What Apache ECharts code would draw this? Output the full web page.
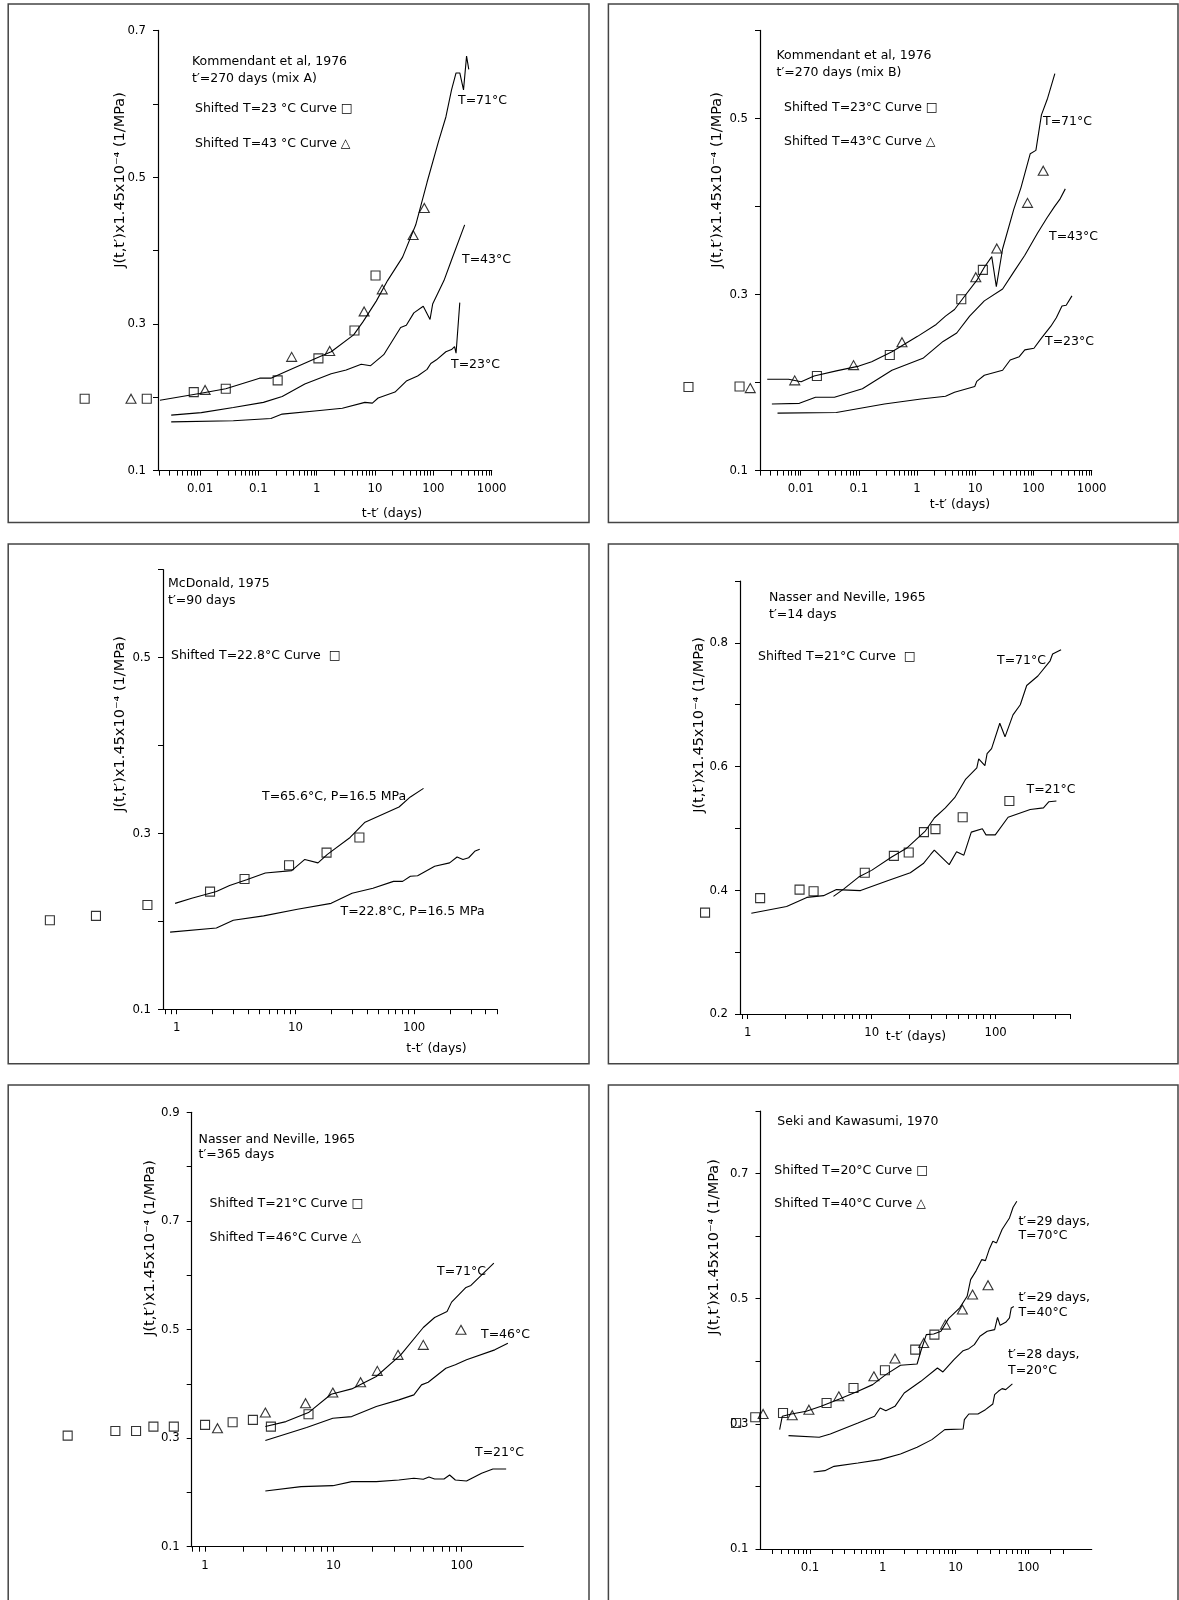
<!DOCTYPE html>
<html><head><meta charset="utf-8">
<script src="https://cdn.jsdelivr.net/npm/echarts@6/dist/echarts.min.js"></script>
<style>html,body{margin:0;padding:0;background:#fff}#c{width:1179px;height:1600px}</style>
</head><body><div id="c"></div>
<script>
// ---------- DATA (x = t-t' in days, y = J(t,t') x1.45e-4 (1/MPa)) ----------
// Panel 1 : Kommendant et al, 1976, mix A
const p1_T71 = [[0.00205,0.196],[0.0098,0.205],[0.0276,0.2115],[0.105,0.226],[0.164,0.226],[0.297,0.235],[0.975,0.253],[1.77,0.262],[4.3,0.285],[6.24,0.303],[10.5,0.331],[16.4,0.359],[29.7,0.391],[49.9,0.435],[78,0.493],[122,0.548],[164,0.582],[205,0.619],[245,0.642],[284,0.642],[329,0.619],[371,0.665],[405,0.647]];
const p1_T43 = [[0.0032,0.1756],[0.0105,0.179],[0.0372,0.186],[0.122,0.193],[0.256,0.201],[0.625,0.218],[1.77,0.232],[3.2,0.237],[5.8,0.245],[8.4,0.243],[14.1,0.258],[27.5,0.295],[34.4,0.298],[46.3,0.315],[67.1,0.324],[87.7,0.306],[97.3,0.327],[152,0.359],[205,0.387],[344,0.435]];
const p1_T23 = [[0.0032,0.1664],[0.0372,0.168],[0.164,0.171],[0.256,0.177],[1.13,0.182],[2.75,0.185],[6.7,0.193],[9.0,0.192],[11.3,0.199],[22,0.207],[34.4,0.222],[53.7,0.229],[78,0.238],[90.4,0.246],[113,0.251],[164,0.262],[205,0.265],[231,0.269],[245,0.26],[284,0.329]];
const p1_sq  = [[0.000105,0.198],[0.00122,0.198],[0.0078,0.207],[0.0276,0.2115],[0.214,0.223],[1.07,0.253],[4.44,0.291],[10.2,0.366]];
const p1_tri = [[0.000655,0.198],[0.0122,0.21],[0.372,0.255],[1.67,0.263],[6.5,0.317],[13.3,0.347],[45,0.421],[70,0.458]];
// Panel 2 : Kommendant et al, 1976, mix B
const p2_T71 = [[0.00266,0.2037],[0.0062,0.2037],[0.0102,0.201],[0.017,0.2075],[0.041,0.2133],[0.1,0.2187],[0.166,0.2237],[0.37,0.235],[1.02,0.2525],[2.13,0.266],[3.08,0.2755],[4.4,0.283],[6.3,0.2966],[10.6,0.316],[14.3,0.331],[19.2,0.343],[23,0.309],[29.5,0.352],[45.7,0.3965],[61,0.4215],[88,0.46],[110,0.4637],[137,0.504],[175,0.523],[233,0.551]];
const p2_T43 = [[0.0032,0.1757],[0.0095,0.1764],[0.018,0.1833],[0.038,0.1833],[0.115,0.193],[0.37,0.214],[1.26,0.2275],[2.8,0.2467],[4.8,0.2563],[8.0,0.2755],[14.3,0.2928],[29.5,0.3062],[45.6,0.3254],[71,0.3446],[117,0.3696],[170,0.3869],[228,0.3995],[283,0.408],[352,0.42]];
const p2_T23 = [[0.004,0.1653],[0.041,0.166],[0.275,0.1757],[1.17,0.1814],[3.08,0.1845],[4.4,0.1891],[9.8,0.1956],[10.6,0.2014],[14.3,0.2083],[29.5,0.214],[39.8,0.2256],[57,0.2294],[71,0.2371],[102,0.239],[137,0.2505],[199,0.264],[247,0.2736],[309,0.287],[365,0.2878],[458,0.2985]];
const p2_sq  = [[0.000118,0.1949],[0.00089,0.1956],[0.019,0.2075],[0.34,0.2313],[5.75,0.2947],[13.5,0.328]];
const p2_tri = [[0.00136,0.1937],[0.0079,0.2025],[0.081,0.2198],[0.55,0.2459],[10.2,0.3197],[23.4,0.3523],[79,0.4041],[147,0.4406]];
// Panel 3 : McDonald, 1975
const p3_T65 = [[0.97,0.2204],[1.34,0.2262],[2.16,0.2338],[2.79,0.2408],[3.88,0.2473],[5.58,0.255],[9.3,0.2577],[12.0,0.2704],[15.5,0.2665],[18.6,0.2762],[28.9,0.2954],[38.6,0.3127],[74.6,0.33],[93,0.3415],[120,0.3512]];
const p3_T22 = [[0.88,0.1877],[2.16,0.1923],[3.0,0.2012],[5.4,0.2062],[10.4,0.2138],[20,0.2204],[30,0.2319],[45,0.2377],[67,0.2454],[80,0.2454],[93,0.2512],[107,0.2519],[149,0.2627],[199,0.2665],[230,0.2731],[258,0.2704],[288,0.2723],[327,0.28],[357,0.2819]];
const p3_sq  = [[0.0855,0.2012],[0.209,0.2062],[0.567,0.2185],[1.91,0.2338],[3.73,0.2481],[8.84,0.2638],[18.3,0.2781],[34.6,0.2954]];
// Panel 4 : Nasser and Neville, 1965, t'=14 days
const p4_T71 = [[4.92,0.3902],[5.97,0.4022],[7.85,0.4213],[9.98,0.4322],[14.6,0.4541],[19.1,0.4678],[26.9,0.4951],[32,0.5169],[39.3,0.5333],[46.7,0.5497],[57.4,0.5798],[70.5,0.5978],[73,0.6126],[81.9,0.6016],[85.3,0.6208],[92.7,0.629],[108,0.67],[119,0.6481],[138,0.6836],[158,0.7],[178,0.7311],[219,0.7464],[275,0.771],[288,0.782],[337,0.789]];
const p4_T21 = [[1.07,0.3628],[2.06,0.3738],[3.0,0.3885],[4.09,0.3913],[5.2,0.4011],[8.13,0.3995],[13.6,0.4158],[20.5,0.4284],[26.1,0.4432],[29.9,0.4579],[32,0.465],[42.2,0.4415],[48.4,0.4623],[55.4,0.4568],[63.6,0.494],[78.1,0.4995],[83.6,0.4896],[99.3,0.4896],[126,0.518],[190,0.5306],[243,0.5333],[269,0.5432],[309,0.5443]];
const p4_sq  = [[0.453,0.3639],[1.26,0.3874],[2.62,0.4011],[3.4,0.3984],[8.8,0.4284],[15.1,0.4557],[19.9,0.4612],[26.4,0.494],[32.7,0.4989],[54.2,0.518],[129,0.5443]];
// Panel 5 : Nasser and Neville, 1965, t'=365 days
const p5_T71 = [[2.95,0.3212],[4.27,0.3304],[6.4,0.347],[9.6,0.3808],[13.9,0.3906],[21.6,0.4134],[33.5,0.4533],[50.2,0.5037],[61.5,0.5221],[76.9,0.5332],[83.4,0.5504],[108,0.5774],[118,0.5811],[178,0.6223]];
const p5_T46 = [[2.95,0.2954],[6.19,0.3194],[9.9,0.3366],[13.9,0.3396],[21.6,0.3581],[32.4,0.3704],[42.4,0.3796],[48.6,0.398],[54.8,0.4029],[75.3,0.4287],[89.2,0.4349],[109,0.4441],[181,0.4625],[229,0.4748]];
const p5_T21 = [[2.95,0.2026],[5.6,0.2106],[9.9,0.2124],[13.9,0.2198],[21.6,0.2198],[32.4,0.2229],[42.4,0.226],[50.2,0.2241],[55.6,0.2284],[61.5,0.2247],[72.8,0.2247],[80.5,0.2321],[89.2,0.2229],[109,0.221],[143,0.2352],[175,0.2432],[222,0.2432]];
const p5_sq  = [[0.085,0.3046],[0.2,0.3132],[0.29,0.3132],[0.396,0.3212],[0.571,0.3212],[1.0,0.3243],[1.64,0.3292],[2.36,0.3335],[3.26,0.3212],[6.4,0.3439]];
const p5_tri = [[1.25,0.3181],[2.95,0.347],[6.07,0.3642],[9.9,0.3839],[16.3,0.4029],[22,0.4238],[31.9,0.4533],[50.2,0.4717],[98.7,0.4994]];
// Panel 6 : Seki and Kawasumi, 1970
const p6_T70 = [[0.0383,0.2908],[0.0416,0.3121],[0.0557,0.3158],[0.089,0.3201],[0.142,0.328],[0.254,0.3398],[0.456,0.352],[0.727,0.3627],[1.1,0.3787],[1.75,0.3936],[2.96,0.3957],[3.33,0.416],[3.96,0.4426],[5.0,0.4437],[6.3,0.4479],[8.0,0.4682],[11.4,0.4853],[14.4,0.5039],[16.1,0.5305],[19.2,0.5449],[22.9,0.5625],[25.7,0.5609],[28.9,0.5785],[32.5,0.5918],[36.5,0.5892],[43.5,0.6105],[55,0.6291],[61.7,0.6462],[69.4,0.6558]];
const p6_T40 = [[0.0507,0.2812],[0.134,0.2785],[0.19,0.2838],[0.456,0.3014],[0.771,0.3121],[0.92,0.3254],[1.1,0.3211],[1.47,0.328],[1.97,0.3494],[3.33,0.368],[5.63,0.3893],[6.7,0.3829],[9.5,0.4027],[12.7,0.417],[15.2,0.4202],[18.1,0.4266],[21.6,0.44],[27.2,0.448],[34.4,0.4506],[37.7,0.4703],[40.9,0.4575],[48.8,0.4623],[55,0.4693],[58.2,0.4853],[63,0.4874]];
const p6_T20 = [[0.112,0.2231],[0.16,0.2252],[0.214,0.2321],[0.456,0.2375],[0.92,0.2428],[1.75,0.2519],[2.96,0.2625],[4.73,0.2748],[7.1,0.2908],[12.7,0.2918],[13.2,0.3067],[15.2,0.3158],[20.3,0.3158],[25.7,0.3227],[32.5,0.3318],[34.4,0.3467],[38.6,0.352],[43.5,0.3563],[48.8,0.3547],[60.3,0.3638]];
const p6_sq  = [[0.00966,0.3014],[0.0177,0.3105],[0.0426,0.3174],[0.169,0.3334],[0.396,0.3574],[1.07,0.3856],[2.79,0.4187],[5.12,0.4426]];
const p6_tri = [[0.0227,0.3158],[0.0571,0.3137],[0.0966,0.3227],[0.249,0.344],[0.755,0.376],[1.47,0.4043],[3.65,0.4293],[7.26,0.4586],[12.4,0.4826],[17.1,0.5066],[27.9,0.5215]];

// tick labels
const xLabels_p1 = [0.01,0.1,1,10,100,1000];
const xLabels_p2 = [0.01,0.1,1,10,100,1000];
const xLabels_p3 = [1,10,100];
const xLabels_p4 = [1,10,100];
const xLabels_p5 = [1,10,100];
const xLabels_p6 = [0.1,1,10,100];
const yLabels_p1 = [0.1,0.3,0.5,0.7];
const yLabels_p2 = [0.1,0.3,0.5];
const yLabels_p3 = [0.1,0.3,0.5];
const yLabels_p4 = [0.2,0.4,0.6,0.8];
const yLabels_p5 = [0.1,0.3,0.5,0.7,0.9];
const yLabels_p6 = [0.1,0.3,0.5,0.7];

// ---------- LAYOUT ----------
function logTicks(lo, hi) {
  const t = [];
  for (let e = -5; e <= 4; e++) for (let m = 1; m <= 9; m++) {
    const v = +(m * Math.pow(10, e)).toPrecision(6);
    if (v >= lo && v <= hi) t.push(v);
  }
  return t;
}
const FONT = "'DejaVu Sans', sans-serif";
const TICKFONT = "'Liberation Sans Narrow', 'DejaVu Sans Condensed', sans-serif";

const panels = [
  {g:[158,30.4,491.7,470.6], x:[0.0019,1001], y:[0.1,0.7], tk:[0.0019,1001], xl:xLabels_p1, yl:yLabels_p1, lines:[p1_T71,p1_T43,p1_T23], sq:p1_sq, tri:p1_tri},
  {g:[760,30.4,1091.7,470.6], x:[0.002,1001], y:[0.1,0.6], tk:[0.002,1001], xl:xLabels_p2, yl:yLabels_p2, lines:[p2_T71,p2_T43,p2_T23], sq:p2_sq, tri:p2_tri},
  {g:[163,569.7,497.1,1009.2], x:[0.767,500], y:[0.1,0.6], tk:[0.767,500], xl:xLabels_p3, yl:yLabels_p3, lines:[p3_T65,p3_T22], sq:p3_sq, tri:null},
  {g:[740,581,1070.3,1014], x:[0.867,400], y:[0.2,0.9], tk:[0.867,400], xl:xLabels_p4, yl:yLabels_p4, lines:[p4_T71,p4_T21], sq:p4_sq, tri:null},
  {g:[191.7,1112.3,523.3,1546.7], x:[0.787,302], y:[0.1,0.9], tk:[0.787,100], xl:xLabels_p5, yl:yLabels_p5, lines:[p5_T71,p5_T46,p5_T21], sq:p5_sq, tri:p5_tri},
  {g:[760.5,1111,1091.7,1549], x:[0.0209,741], y:[0.1,0.8], tk:[0.0209,300], xl:xLabels_p6, yl:yLabels_p6, lines:[p6_T70,p6_T40,p6_T20], sq:p6_sq, tri:p6_tri}
];

const grid = [], xAxis = [], yAxis = [], series = [];
panels.forEach((p, i) => {
  grid.push({left:p.g[0], top:p.g[1], width:p.g[2]-p.g[0], height:p.g[3]-p.g[1]});
  xAxis.push({type:'log', logBase:10, gridIndex:i, min:p.x[0], max:p.x[1],
    axisLine:{show:true, onZero:false, lineStyle:{color:'#000', width:1.2}},
    axisTick:{show:true, inside:false, length:5, customValues:logTicks(p.tk[0], p.tk[1]), lineStyle:{color:'#000', width:1}},
    axisLabel:{show:true, customValues:p.xl, margin:12, fontSize:13, fontFamily:TICKFONT, color:'#000',
      formatter:v => String(+(+v).toPrecision(6))},
    splitLine:{show:false}, minorTick:{show:false}});
  yAxis.push({type:'value', gridIndex:i, min:p.y[0], max:p.y[1], interval:0.1,
    axisLine:{show:true, onZero:false, lineStyle:{color:'#000', width:1.2}},
    axisTick:{show:true, inside:false, length:5, lineStyle:{color:'#000', width:1}},
    axisLabel:{show:true, customValues:p.yl, margin:12, fontSize:13, fontFamily:TICKFONT, color:'#000',
      formatter:v => (+v).toFixed(1)},
    splitLine:{show:false}});
  p.lines.forEach(d => series.push({type:'line', xAxisIndex:i, yAxisIndex:i, data:d, symbol:'none', clip:false,
    lineStyle:{color:'#000', width:1.1}, silent:true}));
  if (p.sq) series.push({type:'scatter', xAxisIndex:i, yAxisIndex:i, data:p.sq, symbol:'rect', symbolSize:[9,9], clip:false,
    itemStyle:{color:'rgba(255,255,255,0)', borderColor:'#000', borderWidth:1.1}});
  if (p.tri) series.push({type:'scatter', xAxisIndex:i, yAxisIndex:i, data:p.tri, symbol:'triangle', symbolSize:[10,9], clip:false,
    itemStyle:{color:'rgba(255,255,255,0)', borderColor:'#000', borderWidth:1.1}});
});

// ---------- TEXT / FRAMES ----------
function T(x, y, text, align) {
  return {type:'text', x:x, y:y, silent:true,
    style:{text:text, fontSize:12.5, fontFamily:FONT, fill:'#000', align:align||'left', verticalAlign:'middle'}};
}
function YT(x, y) {
  return {type:'text', x:x, y:y, rotation:Math.PI/2, silent:true,
    style:{text:'J(t,t\u2032)x1.45x10\u207B\u2074 (1/MPa)', align:'center', verticalAlign:'middle', fill:'#000',
      fontSize:14.5, fontFamily:FONT}};
}
function R(x, y, w, h) {
  return {type:'rect', silent:true, shape:{x:x, y:y, width:w, height:h}, style:{fill:'none', stroke:'#444', lineWidth:1.5}};
}
const graphic = [
  R(8.2,4.1,580.8,518.5), R(608.4,4.1,569.6,518.5),
  R(8.2,544,580.8,519.7), R(608.4,544,569.6,519.7),
  R(8.2,1085,580.8,540), R(608.4,1085,569.6,540),
  // panel 1
  T(192,61.5,'Kommendant et al, 1976'), T(192,78.4,'t\u2032=270 days (mix A)'),
  T(195,109,'Shifted T=23 \u00B0C Curve \u25A1'), T(195,144,'Shifted T=43 \u00B0C Curve \u25B3'),
  T(458,101,'T=71\u00B0C'), T(462,260,'T=43\u00B0C'), T(451,365,'T=23\u00B0C'),
  T(392,514,'t-t\u2032 (days)','center'), YT(120,180),
  // panel 2
  T(776.5,55.8,'Kommendant et al, 1976'), T(776.5,72.7,'t\u2032=270 days (mix B)'),
  T(784,108.2,'Shifted T=23\u00B0C Curve \u25A1'), T(784,142,'Shifted T=43\u00B0C Curve \u25B3'),
  T(1043,121.7,'T=71\u00B0C'), T(1049,236.6,'T=43\u00B0C'), T(1045,341.5,'T=23\u00B0C'),
  T(960,505,'t-t\u2032 (days)','center'), YT(717,180),
  // panel 3
  T(168,584,'McDonald, 1975'), T(168,601,'t\u2032=90 days'),
  T(171,656,'Shifted T=22.8\u00B0C Curve  \u25A1'),
  T(262,797,'T=65.6\u00B0C, P=16.5 MPa'), T(340.5,912,'T=22.8\u00B0C, P=16.5 MPa'),
  T(436.5,1049,'t-t\u2032 (days)','center'), YT(120,724),
  // panel 4
  T(769,597.5,'Nasser and Neville, 1965'), T(769,614.4,'t\u2032=14 days'),
  T(758,656.6,'Shifted T=21\u00B0C Curve  \u25A1'),
  T(997,661,'T=71\u00B0C'), T(1026.5,790,'T=21\u00B0C'),
  T(916,1037,'t-t\u2032 (days)','center'), YT(699,725),
  // panel 5
  T(198.6,1139.6,'Nasser and Neville, 1965'), T(198.6,1155.2,'t\u2032=365 days'),
  T(209.6,1203.8,'Shifted T=21\u00B0C Curve \u25A1'), T(209.6,1237.8,'Shifted T=46\u00B0C Curve \u25B3'),
  T(437,1271.7,'T=71\u00B0C'), T(481,1335,'T=46\u00B0C'), T(475,1452.5,'T=21\u00B0C'),
  YT(150,1248),
  // panel 6
  T(777.3,1121.3,'Seki and Kawasumi, 1970'),
  T(774.3,1170.5,'Shifted T=20\u00B0C Curve \u25A1'), T(774.3,1203.8,'Shifted T=40\u00B0C Curve \u25B3'),
  T(1018.4,1221.8,'t\u2032=29 days,'), T(1018.4,1236,'T=70\u00B0C'),
  T(1018.4,1297.7,'t\u2032=29 days,'), T(1018.4,1312.7,'T=40\u00B0C'),
  T(1008,1355,'t\u2032=28 days,'), T(1008,1370.3,'T=20\u00B0C'),
  YT(714.5,1247)
];

const chart = echarts.init(document.getElementById('c'), null, {renderer:'canvas', width:1179, height:1600});
chart.setOption({animation:false, backgroundColor:'#fff', grid, xAxis, yAxis, series, graphic});
</script></body></html>
